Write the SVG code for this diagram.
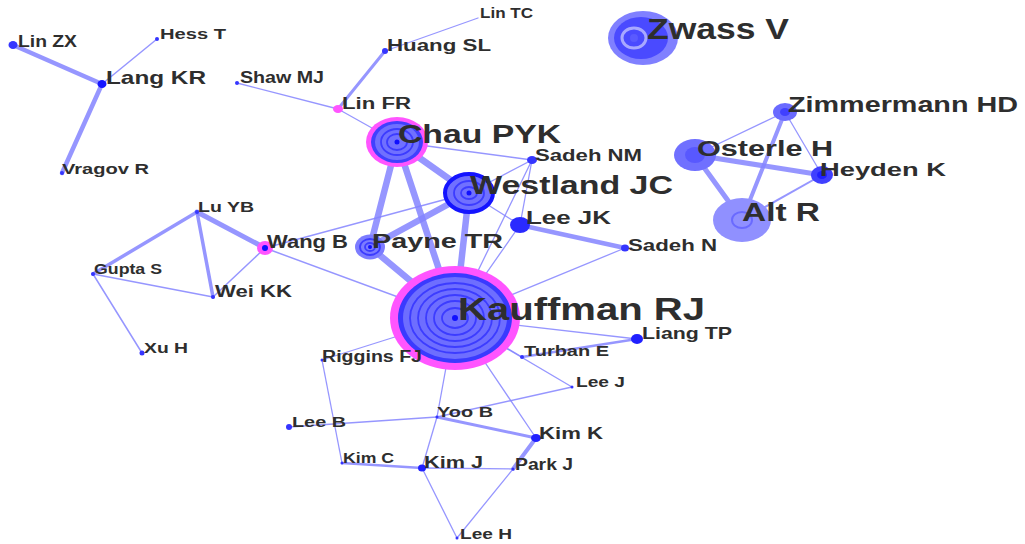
<svg xmlns="http://www.w3.org/2000/svg" width="1025" height="544" viewBox="0 0 1025 544">
<style>
.e{stroke:#8484ff;stroke-linecap:round;fill:none;stroke-opacity:0.85}
.t{font-family:"Liberation Sans",Arial,sans-serif;font-weight:bold;fill:#2e2e2e}
.d{fill:#3535ff}
.pk{fill:#ff55ff}
.ring{fill:none;stroke:#3c3cff;stroke-width:1.8}
</style>
<rect width="1025" height="544" fill="#fff"/>
<g id="connectors">
<line class="e" stroke-width="4.5" x1="13" y1="45" x2="102" y2="84"/>
<line class="e" stroke-width="1.5" x1="157" y1="39" x2="102" y2="84"/>
<line class="e" stroke-width="4.5" x1="102" y1="84" x2="62" y2="173"/>
<line class="e" stroke-width="1.3" x1="237" y1="83" x2="338" y2="109"/>
<line class="e" stroke-width="3" x1="338" y1="109" x2="385" y2="51"/>
<line class="e" stroke-width="1.3" x1="385" y1="51" x2="478" y2="18"/>
<line class="e" stroke-width="1.3" x1="338" y1="109" x2="397" y2="142"/>
<line class="e" stroke-width="1.5" x1="397" y1="142" x2="532" y2="160"/>
<line class="e" stroke-width="6.5" x1="397" y1="142" x2="469" y2="193"/>
<line class="e" stroke-width="6.5" x1="397" y1="142" x2="370" y2="247"/>
<line class="e" stroke-width="6.5" x1="397" y1="142" x2="455" y2="318"/>
<line class="e" stroke-width="6.5" x1="469" y1="193" x2="370" y2="247"/>
<line class="e" stroke-width="6.5" x1="469" y1="193" x2="455" y2="318"/>
<line class="e" stroke-width="6.5" x1="370" y1="247" x2="455" y2="318"/>
<line class="e" stroke-width="1.3" x1="469" y1="193" x2="265" y2="248"/>
<line class="e" stroke-width="1.3" x1="469" y1="193" x2="520" y2="225"/>
<line class="e" stroke-width="1.3" x1="469" y1="193" x2="532" y2="160"/>
<line class="e" stroke-width="1.3" x1="532" y1="160" x2="520" y2="225"/>
<line class="e" stroke-width="1.3" x1="532" y1="160" x2="455" y2="318"/>
<line class="e" stroke-width="1.3" x1="520" y1="225" x2="455" y2="318"/>
<line class="e" stroke-width="4.5" x1="520" y1="225" x2="625" y2="248"/>
<line class="e" stroke-width="1.3" x1="625" y1="248" x2="455" y2="318"/>
<line class="e" stroke-width="5" x1="265" y1="248" x2="197" y2="212"/>
<line class="e" stroke-width="1.5" x1="265" y1="248" x2="213" y2="297"/>
<line class="e" stroke-width="1.5" x1="265" y1="248" x2="455" y2="318"/>
<line class="e" stroke-width="3.5" x1="197" y1="212" x2="93" y2="274"/>
<line class="e" stroke-width="3.5" x1="197" y1="212" x2="213" y2="297"/>
<line class="e" stroke-width="1.5" x1="93" y1="274" x2="213" y2="297"/>
<line class="e" stroke-width="1.5" x1="93" y1="274" x2="142" y2="353"/>
<line class="e" stroke-width="1.3" x1="455" y1="318" x2="637" y2="339"/>
<line class="e" stroke-width="2.5" x1="522" y1="357" x2="637" y2="339"/>
<line class="e" stroke-width="1.3" x1="455" y1="318" x2="522" y2="357"/>
<line class="e" stroke-width="1.3" x1="455" y1="318" x2="572" y2="387"/>
<line class="e" stroke-width="1.3" x1="455" y1="318" x2="322" y2="360"/>
<line class="e" stroke-width="1.3" x1="455" y1="318" x2="437" y2="417"/>
<line class="e" stroke-width="1.3" x1="437" y1="417" x2="422" y2="468"/>
<line class="e" stroke-width="1.3" x1="455" y1="318" x2="536" y2="438"/>
<line class="e" stroke-width="1.3" x1="572" y1="387" x2="437" y2="417"/>
<line class="e" stroke-width="1.5" x1="289" y1="427" x2="437" y2="417"/>
<line class="e" stroke-width="3" x1="437" y1="417" x2="536" y2="438"/>
<line class="e" stroke-width="4" x1="536" y1="438" x2="513" y2="469"/>
<line class="e" stroke-width="2.5" x1="342" y1="463" x2="422" y2="468"/>
<line class="e" stroke-width="1.3" x1="422" y1="468" x2="513" y2="469"/>
<line class="e" stroke-width="1.3" x1="422" y1="468" x2="457" y2="538"/>
<line class="e" stroke-width="1.3" x1="513" y1="469" x2="457" y2="538"/>
<line class="e" stroke-width="1.3" x1="322" y1="360" x2="342" y2="463"/>
<line class="e" stroke-width="1.3" x1="695" y1="155" x2="785" y2="112"/>
<line class="e" stroke-width="5" x1="695" y1="155" x2="822" y2="175"/>
<line class="e" stroke-width="5" x1="695" y1="155" x2="742" y2="220"/>
<line class="e" stroke-width="4" x1="785" y1="112" x2="742" y2="220"/>
<line class="e" stroke-width="1.3" x1="785" y1="112" x2="822" y2="175"/>
<line class="e" stroke-width="2" x1="822" y1="175" x2="742" y2="220"/>
</g>
<g id="n-kauffman">
<ellipse cx="455" cy="318" rx="65" ry="52" class="pk"/>
<ellipse cx="455" cy="318" rx="57" ry="45" fill="#3a3aff"/>
<ellipse cx="455" cy="318" rx="52" ry="41" fill="#6e6eff"/>
<ellipse cx="455" cy="318" rx="45" ry="35" class="ring"/>
<ellipse cx="455" cy="318" rx="37" ry="29" class="ring"/>
<ellipse cx="455" cy="318" rx="29" ry="23" class="ring"/>
<ellipse cx="455" cy="318" rx="21" ry="17" class="ring"/>
<ellipse cx="455" cy="318" rx="13" ry="10" class="ring"/>
<circle cx="455" cy="318" r="3" fill="#1010ff"/>
<text class="t" x="458" y="320" font-size="32" textLength="247" lengthAdjust="spacingAndGlyphs">Kauffman RJ</text>
</g>
<g id="n-chau">
<ellipse cx="397" cy="142" rx="31" ry="25" class="pk"/>
<ellipse cx="397" cy="142" rx="26" ry="21" fill="#4040ff"/>
<ellipse cx="397" cy="142" rx="22" ry="18" fill="#7070ff"/>
<ellipse cx="397" cy="142" rx="16" ry="13" class="ring"/>
<ellipse cx="397" cy="142" rx="10" ry="8" class="ring"/>
<circle cx="397" cy="142" r="2.5" fill="#1010ff"/>
<text class="t" x="398" y="143" font-size="26" textLength="163" lengthAdjust="spacingAndGlyphs">Chau PYK</text>
</g>
<g id="n-westland">
<ellipse cx="469" cy="193" rx="24" ry="19" fill="#7070ff" stroke="#1414ff" stroke-width="4"/>
<ellipse cx="469" cy="193" rx="15" ry="12" class="ring"/>
<ellipse cx="469" cy="193" rx="8" ry="6" class="ring"/>
<circle cx="469" cy="193" r="2.5" fill="#1010ff"/>
<text class="t" x="470" y="194" font-size="25" textLength="203" lengthAdjust="spacingAndGlyphs">Westland JC</text>
</g>
<g id="n-payne">
<ellipse cx="370" cy="247" rx="15" ry="12.5" fill="#7c7cff"/>
<ellipse cx="370" cy="247" rx="10" ry="8" class="ring"/>
<ellipse cx="370" cy="247" rx="5" ry="4" class="ring"/>
<circle cx="370" cy="247" r="2" fill="#1010ff"/>
<text class="t" x="372" y="248" font-size="21" textLength="131" lengthAdjust="spacingAndGlyphs">Payne TR</text>
</g>
<g id="n-zwass">
<ellipse cx="643" cy="38" rx="35" ry="27" fill="#8080ff"/>
<ellipse cx="641" cy="38" rx="27" ry="21" fill="#4a4aff"/>
<ellipse cx="634" cy="38" rx="12" ry="10" fill="none" stroke="#a8a8ff" stroke-width="3"/>
<circle cx="634" cy="38" r="4" fill="#5a5aff"/>
<text class="t" x="647" y="39" font-size="29" textLength="142" lengthAdjust="spacingAndGlyphs">Zwass V</text>
</g>
<g id="n-zimmermann">
<ellipse cx="785" cy="112" rx="12" ry="9" fill="#6a6aff"/>
<ellipse cx="785" cy="112" rx="5" ry="4" fill="#4040ff"/>
<text class="t" x="788" y="112" font-size="22" textLength="230" lengthAdjust="spacingAndGlyphs">Zimmermann HD</text>
</g>
<g id="n-osterle">
<ellipse cx="695" cy="155" rx="21" ry="16" fill="#7070ff"/>
<ellipse cx="695" cy="155" rx="10" ry="8" fill="#5858ff"/>
<text class="t" x="697" y="156" font-size="22" textLength="136" lengthAdjust="spacingAndGlyphs">Osterle H</text>
</g>
<g id="n-heyden">
<ellipse cx="822" cy="175" rx="11" ry="9" fill="#4040ff"/>
<ellipse cx="822" cy="175" rx="5" ry="4" fill="#2020ff"/>
<text class="t" x="820" y="176" font-size="19" textLength="126" lengthAdjust="spacingAndGlyphs">Heyden K</text>
</g>
<g id="n-alt">
<ellipse cx="742" cy="220" rx="29" ry="22" fill="#9090ff"/>
<ellipse cx="742" cy="220" rx="10" ry="8" fill="none" stroke="#6a6aff" stroke-width="2"/>
<text class="t" x="742" y="221" font-size="26" textLength="78" lengthAdjust="spacingAndGlyphs">Alt R</text>
</g>
<g id="n-leejk">
<ellipse cx="520" cy="225" rx="10" ry="8" fill="#2a2aff"/>
<text class="t" x="526" y="224" font-size="18" textLength="85" lengthAdjust="spacingAndGlyphs">Lee JK</text>
</g>
<g id="n-sadehnm">
<ellipse cx="532" cy="160" rx="5" ry="4" class="d"/>
<text class="t" x="535" y="161" font-size="16" textLength="107" lengthAdjust="spacingAndGlyphs">Sadeh NM</text>
</g>
<g id="n-sadehn">
<ellipse cx="625" cy="248" rx="4" ry="3.5" class="d"/>
<text class="t" x="628" y="251" font-size="16" textLength="89" lengthAdjust="spacingAndGlyphs">Sadeh N</text>
</g>
<g id="n-wangb">
<ellipse cx="265" cy="248" rx="8" ry="7" class="pk"/>
<circle cx="265" cy="248" r="3" fill="#1010ff"/>
<text class="t" x="267" y="248" font-size="18" textLength="81" lengthAdjust="spacingAndGlyphs">Wang B</text>
</g>
<g id="n-linfr">
<ellipse cx="338" cy="109" rx="5" ry="4" class="pk"/>
<text class="t" x="342" y="109" font-size="16" textLength="69" lengthAdjust="spacingAndGlyphs">Lin FR</text>
</g>
<g id="n-huangsl">
<circle cx="385" cy="51" r="3" class="d"/>
<text class="t" x="387" y="51" font-size="16" textLength="104" lengthAdjust="spacingAndGlyphs">Huang SL</text>
</g>
<g id="n-lintc">
<text class="t" x="480" y="18" font-size="14" textLength="53" lengthAdjust="spacingAndGlyphs">Lin TC</text>
</g>
<g id="n-shawmj">
<circle cx="237" cy="83" r="2" class="d"/>
<text class="t" x="240" y="83" font-size="16" textLength="84" lengthAdjust="spacingAndGlyphs">Shaw MJ</text>
</g>
<g id="n-linzx">
<ellipse cx="13" cy="45" rx="4.5" ry="4" class="d"/>
<text class="t" x="18" y="47" font-size="16" textLength="59" lengthAdjust="spacingAndGlyphs">Lin ZX</text>
</g>
<g id="n-hesst">
<circle cx="157" cy="39" r="2" class="d"/>
<text class="t" x="160" y="39" font-size="15" textLength="66" lengthAdjust="spacingAndGlyphs">Hess T</text>
</g>
<g id="n-langkr">
<ellipse cx="102" cy="84" rx="4.5" ry="4" fill="#1515ff"/>
<text class="t" x="106" y="84" font-size="19" textLength="100" lengthAdjust="spacingAndGlyphs">Lang KR</text>
</g>
<g id="n-vragovr">
<circle cx="62" cy="173" r="2" class="d"/>
<text class="t" x="62" y="174" font-size="15" textLength="87" lengthAdjust="spacingAndGlyphs">Vragov R</text>
</g>
<g id="n-luyb">
<circle cx="197" cy="212" r="2" class="d"/>
<text class="t" x="198" y="212" font-size="15" textLength="56" lengthAdjust="spacingAndGlyphs">Lu YB</text>
</g>
<g id="n-guptas">
<circle cx="93" cy="274" r="2" class="d"/>
<text class="t" x="94" y="274" font-size="14" textLength="68" lengthAdjust="spacingAndGlyphs">Gupta S</text>
</g>
<g id="n-weikk">
<circle cx="213" cy="297" r="2" class="d"/>
<text class="t" x="215" y="297" font-size="17" textLength="77" lengthAdjust="spacingAndGlyphs">Wei KK</text>
</g>
<g id="n-xuh">
<circle cx="142" cy="353" r="2.5" class="d"/>
<text class="t" x="144" y="353" font-size="15" textLength="44" lengthAdjust="spacingAndGlyphs">Xu H</text>
</g>
<g id="n-liangtp">
<ellipse cx="637" cy="339" rx="6" ry="5" fill="#2020ff"/>
<text class="t" x="642" y="339" font-size="17" textLength="90" lengthAdjust="spacingAndGlyphs">Liang TP</text>
</g>
<g id="n-turbane">
<circle cx="522" cy="357" r="2" class="d"/>
<text class="t" x="524" y="356" font-size="15" textLength="85" lengthAdjust="spacingAndGlyphs">Turban E</text>
</g>
<g id="n-leej">
<circle cx="572" cy="387" r="1.5" class="d"/>
<text class="t" x="576" y="387" font-size="15" textLength="49" lengthAdjust="spacingAndGlyphs">Lee J</text>
</g>
<g id="n-rigginsfj">
<circle cx="322" cy="360" r="1.5" class="d"/>
<text class="t" x="322" y="362" font-size="16" textLength="100" lengthAdjust="spacingAndGlyphs">Riggins FJ</text>
</g>
<g id="n-leeb">
<circle cx="289" cy="427" r="3" class="d"/>
<text class="t" x="292" y="427" font-size="15" textLength="54" lengthAdjust="spacingAndGlyphs">Lee B</text>
</g>
<g id="n-yoob">
<circle cx="437" cy="417" r="1.5" class="d"/>
<text class="t" x="437" y="417" font-size="14" textLength="56" lengthAdjust="spacingAndGlyphs">Yoo B</text>
</g>
<g id="n-kimk">
<ellipse cx="536" cy="438" rx="5" ry="4" fill="#2020ff"/>
<text class="t" x="539" y="439" font-size="17" textLength="64" lengthAdjust="spacingAndGlyphs">Kim K</text>
</g>
<g id="n-kimc">
<circle cx="342" cy="463" r="1.5" class="d"/>
<text class="t" x="343" y="463" font-size="14" textLength="51" lengthAdjust="spacingAndGlyphs">Kim C</text>
</g>
<g id="n-kimj">
<ellipse cx="422" cy="468" rx="4" ry="3.5" fill="#2020ff"/>
<text class="t" x="424" y="468" font-size="17" textLength="59" lengthAdjust="spacingAndGlyphs">Kim J</text>
</g>
<g id="n-parkj">
<circle cx="513" cy="469" r="1.5" class="d"/>
<text class="t" x="515" y="470" font-size="16" textLength="58" lengthAdjust="spacingAndGlyphs">Park J</text>
</g>
<g id="n-leeh">
<circle cx="457" cy="538" r="1.5" class="d"/>
<text class="t" x="460" y="539" font-size="15" textLength="52" lengthAdjust="spacingAndGlyphs">Lee H</text>
</g>
</svg>
